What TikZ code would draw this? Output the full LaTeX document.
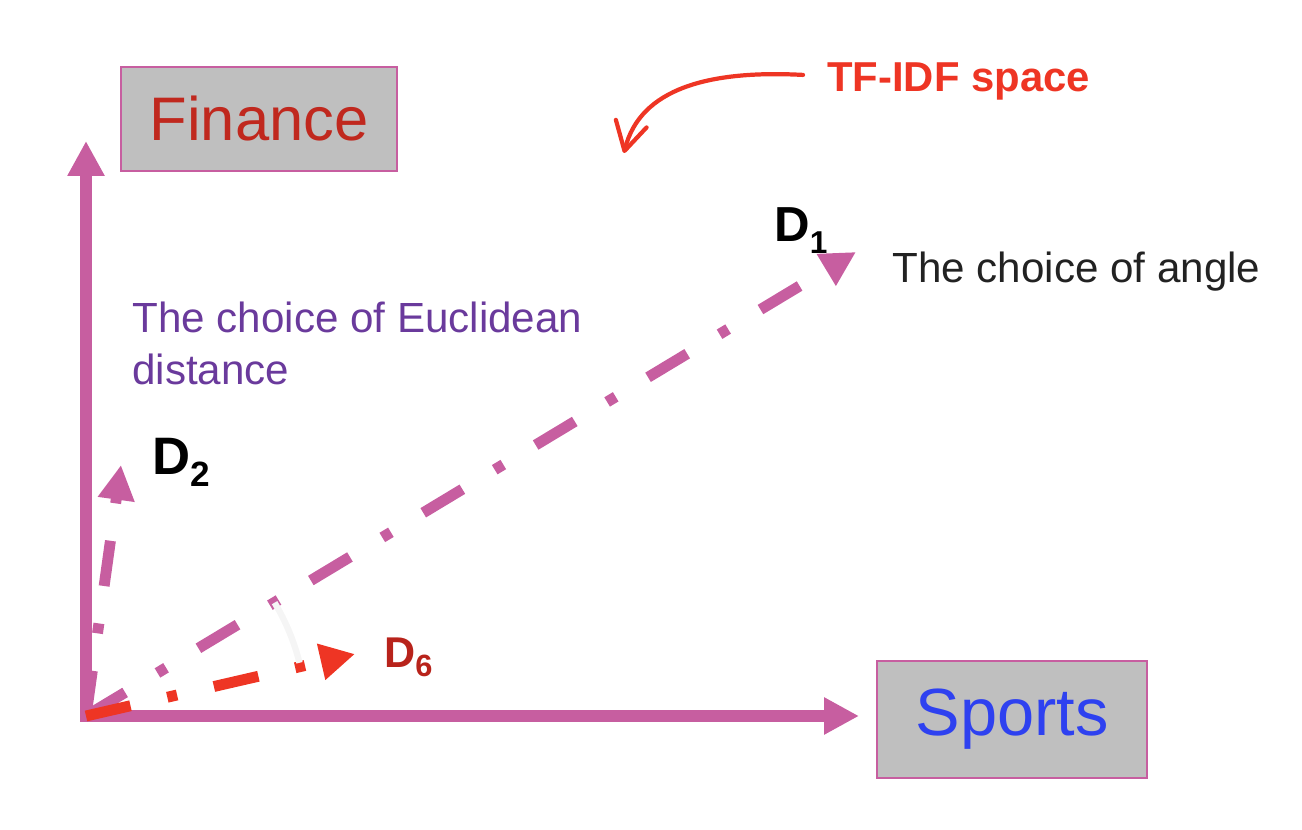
\documentclass[tikz,border=0pt]{standalone}
\usepackage{fontspec}
\setmainfont{Liberation Sans}
\usetikzlibrary{arrows.meta}

\definecolor{vecpink}{HTML}{C75EA0}
\definecolor{boxgray}{HTML}{BFBFBF}
\definecolor{finred}{HTML}{C0281E}
\definecolor{sportblue}{HTML}{2E41F0}
\definecolor{tfred}{HTML}{EE3524}
\definecolor{dsixred}{HTML}{B8231B}
\definecolor{euclpurple}{HTML}{6A3A9C}
\definecolor{angletext}{HTML}{222222}

\tikzset{
  axis/.style={vecpink, line width=6.4pt, line cap=rect, -{Triangle[length=19.8pt,width=19.8pt]}},
  docvec/.style={line width=6.2pt, dash pattern=on 26pt off 21.5pt on 5.7pt off 21.5pt, -{Triangle[length=19.8pt,width=19.8pt]}},
  topic/.style={draw=vecpink, fill=boxgray, line width=1.5pt, inner sep=0pt},
  doclabel/.style={anchor=base west, inner sep=0pt},
  remark/.style={anchor=base west, inner sep=0pt, font=\fontsize{24pt}{29.5pt}\selectfont}
}

\begin{document}
\begin{tikzpicture}[x=0.02cm, y=-0.02cm]
            \useasboundingbox (0,0) rectangle (1302,830);

            \node[topic, minimum width=5.52cm, minimum height=2.08cm, text=finred, font=\fontsize{35pt}{40pt}\selectfont] (finance) at (259,119) {Finance};
            \node[topic, minimum width=5.4cm, minimum height=2.34cm, text=sportblue, font=\fontsize{38pt}{44pt}\selectfont] (sports) at (1012,719.5) {Sports};

            \coordinate (O) at (86,716);
            \coordinate (ftip) at (86,141);
            \coordinate (stip) at (859,716);
            \coordinate (d1) at (856,252);
            \coordinate (d2) at (121,465);
            \coordinate (d6) at (355,654);

            \draw[axis] (O) -- (ftip);
            \draw[axis] (O) -- (stip);

            \draw[docvec, vecpink] (O) -- (d1);
            \draw[docvec, vecpink] (O) -- (d2);
            \draw[docvec, tfred] (O) -- (d6);

            \draw[black!4, line width=3.6pt] (O) ++(-31:220) arc[start angle=-31, end angle=-14, radius=220];

            \node[doclabel, font=\fontsize{28pt}{32pt}\selectfont\bfseries] (d1lab) at (774,242) {D\raisebox{-6.8pt}{\fontsize{18pt}{20pt}\selectfont 1}};
            \node[doclabel, font=\fontsize{30pt}{34pt}\selectfont\bfseries] (d2lab) at (152,475) {D\raisebox{-6.8pt}{\fontsize{20pt}{22pt}\selectfont 2}};
            \node[doclabel, text=dsixred, font=\fontsize{24.5pt}{28pt}\selectfont\bfseries] (d6lab) at (384,668) {D\raisebox{-5pt}{\fontsize{17.5pt}{19pt}\selectfont 6}};

            \node[remark, text=angletext] (angletxt) at (892,283) {The choice of angle};
            \node[remark, anchor=north west, align=left, text=euclpurple] (eucltxt) at (132,302) {The choice of Euclidean\\distance};

            \node[anchor=base west, inner xsep=13.6pt, inner ysep=0pt, text=tfred, font=\fontsize{23.8pt}{28pt}\selectfont\bfseries] (tfidf) at (803,92) {TF-IDF space};
            \coordinate (tfend) at (624,153);
            \draw[tfred, line width=2.4pt, line cap=round, -{Straight Barb[round,length=16pt,width=18pt]}] ([yshift=4pt]tfidf.west) .. controls (710,70) and (640,88) .. (tfend);
        \end{tikzpicture}
\end{document}
